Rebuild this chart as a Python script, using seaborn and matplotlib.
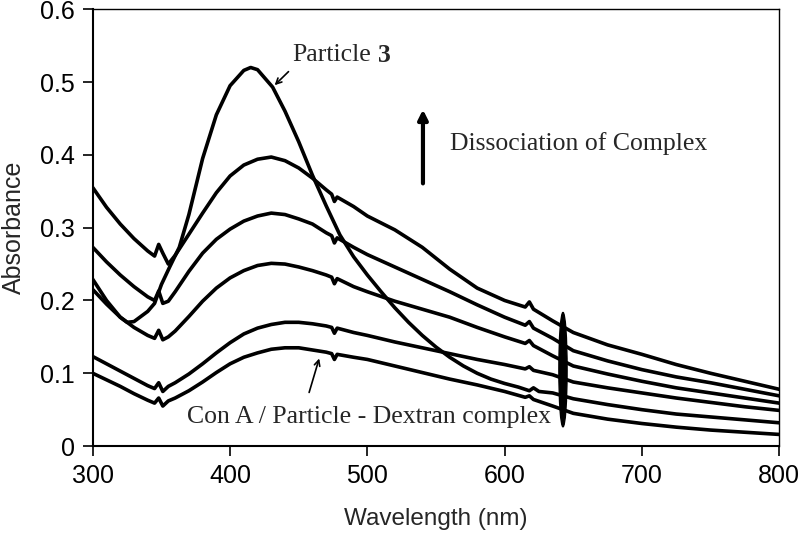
import numpy as np
import matplotlib
matplotlib.use("Agg")
import matplotlib.pyplot as plt
from matplotlib.patches import Ellipse
import seaborn as sns

# --------------------------------------------
# Data (wavelength in nm, absorbance)
# --------------------------------------------
wl = [300, 310, 320, 330, 340, 345, 348, 351, 355, 360, 370, 380, 390, 400,
      410, 420, 430, 440, 450, 460, 470, 474, 476, 478, 490, 500, 520, 540,
      560, 580, 600, 615, 618, 621, 635, 650, 675, 700, 725, 750, 775, 800]

# Con A / Particle - Dextran complex (lowest) up to most dissociated
complex_1 = [0.100, 0.091, 0.082, 0.072, 0.063, 0.059, 0.066, 0.055, 0.062, 0.066,
             0.076, 0.088, 0.101, 0.113, 0.122, 0.128, 0.133, 0.135, 0.135, 0.132,
             0.129, 0.127, 0.119, 0.126, 0.122, 0.119, 0.110, 0.101, 0.092, 0.084,
             0.075, 0.067, 0.069, 0.064, 0.055, 0.045, 0.037, 0.031, 0.026, 0.022,
             0.019, 0.016]
complex_2 = [0.123, 0.113, 0.103, 0.093, 0.083, 0.079, 0.087, 0.075, 0.082, 0.087,
             0.099, 0.113, 0.128, 0.142, 0.154, 0.162, 0.167, 0.170, 0.170, 0.168,
             0.165, 0.163, 0.155, 0.162, 0.156, 0.152, 0.143, 0.135, 0.127, 0.119,
             0.112, 0.106, 0.109, 0.104, 0.098, 0.088, 0.080, 0.073, 0.066, 0.060,
             0.054, 0.049]
complex_3 = [0.215, 0.195, 0.177, 0.163, 0.152, 0.148, 0.159, 0.146, 0.150, 0.158,
             0.178, 0.199, 0.217, 0.231, 0.241, 0.248, 0.251, 0.250, 0.246, 0.241,
             0.235, 0.232, 0.223, 0.230, 0.219, 0.212, 0.199, 0.188, 0.177, 0.163,
             0.150, 0.141, 0.145, 0.138, 0.124, 0.110, 0.099, 0.089, 0.080, 0.073,
             0.066, 0.059]
complex_4 = [0.273, 0.253, 0.235, 0.219, 0.205, 0.200, 0.213, 0.196, 0.199, 0.212,
             0.240, 0.265, 0.284, 0.298, 0.309, 0.316, 0.320, 0.318, 0.312, 0.305,
             0.293, 0.289, 0.279, 0.286, 0.273, 0.263, 0.246, 0.229, 0.212, 0.194,
             0.177, 0.166, 0.171, 0.162, 0.148, 0.131, 0.117, 0.105, 0.095, 0.087,
             0.078, 0.069]
complex_5 = [0.355, 0.328, 0.305, 0.285, 0.268, 0.261, 0.277, 0.265, 0.250, 0.262,
             0.291, 0.320, 0.348, 0.371, 0.386, 0.394, 0.397, 0.392, 0.382, 0.368,
             0.352, 0.346, 0.336, 0.342, 0.329, 0.316, 0.297, 0.273, 0.243, 0.217,
             0.200, 0.191, 0.198, 0.188, 0.172, 0.156, 0.139, 0.126, 0.112, 0.100,
             0.089, 0.078]

# Free particle 3
p3_wl = [300, 310, 320, 325, 330, 340, 345, 350, 356, 363, 370, 380, 390, 400,
         410, 415, 420, 431, 440, 450, 460, 470, 480, 490, 500, 510, 520, 530,
         540, 550, 560, 570, 580, 590, 600, 610, 618, 621, 625, 635, 650, 675,
         700, 725, 750, 775, 800]
particle_3 = [0.229, 0.200, 0.177, 0.170, 0.171, 0.185, 0.196, 0.222, 0.246, 0.273,
              0.318, 0.395, 0.455, 0.495, 0.516, 0.520, 0.517, 0.493, 0.460, 0.418,
              0.372, 0.330, 0.290, 0.260, 0.235, 0.212, 0.190, 0.170, 0.152, 0.136,
              0.122, 0.110, 0.100, 0.092, 0.086, 0.081, 0.076, 0.080, 0.075, 0.073,
              0.065, 0.057, 0.050, 0.044, 0.040, 0.036, 0.032]

x_ticks = [300, 400, 500, 600, 700, 800]
y_ticks = [0, 0.1, 0.2, 0.3, 0.4, 0.5, 0.6]
y_tick_labels = ["0", "0.1", "0.2", "0.3", "0.4", "0.5", "0.6"]

# --------------------------------------------
# Style
# --------------------------------------------
sns.set_style("white")
plt.rcParams["font.family"] = ["Liberation Sans", "DejaVu Sans"]
serif = ["Liberation Serif", "DejaVu Serif"]

fig = plt.figure(figsize=(8, 5.44), dpi=100)
ax = fig.add_axes([0.116, 0.180, 0.858, 0.803])

for series in [complex_1, complex_2, complex_3, complex_4, complex_5]:
    sns.lineplot(x=wl, y=series, ax=ax, color="black", lw=2.6)
sns.lineplot(x=p3_wl, y=particle_3, ax=ax, color="black", lw=2.6)

ax.set_xlim(300, 800)
ax.set_ylim(0, 0.6)
ax.set_xticks(x_ticks)
ax.set_yticks(y_ticks)
ax.set_yticklabels(y_tick_labels)
ax.tick_params(axis="both", direction="out", length=7, width=1.2,
               labelsize=18, colors="black", pad=6)
ax.tick_params(top=False, right=False, bottom=True, left=True)
for side in ["left", "bottom", "top", "right"]:
    ax.spines[side].set_color("black")
    ax.spines[side].set_linewidth(1.5 if side in ["left", "bottom"] else 1.0)

ax.set_xlabel("Wavelength (nm)", fontsize=17.5, labelpad=14)
ax.set_ylabel("Absorbance", fontsize=18, labelpad=10)

# Marker ellipse over all curves
ax.add_patch(Ellipse((642.5, 0.105), width=6, height=0.157, color="black", zorder=5))

# Annotations
ax.annotate("", xy=(540.5, 0.466), xytext=(540.5, 0.357),
            arrowprops=dict(arrowstyle="-|>", lw=3, color="black", mutation_scale=14))
ax.text(560, 0.416, "Dissociation of Complex", fontsize=18.5, family=serif,
        va="center", ha="left")

ax.annotate("", xy=(431, 0.493), xytext=(444, 0.517),
            arrowprops=dict(arrowstyle="->", lw=1.2, color="black"))
p_txt = ax.text(445, 0.537, "Particle", fontsize=18.5, family=serif,
                va="center", ha="left")
ax.annotate("3", xy=(1, 0.5), xycoords=p_txt, xytext=(5, 0),
            textcoords="offset points", fontsize=18.5, family=serif,
            weight="bold", va="center", ha="left")

ax.annotate("", xy=(465.5, 0.124), xytext=(457, 0.070),
            arrowprops=dict(arrowstyle="->", lw=1.2, color="black"))
ax.text(368.5, 0.040, "Con A / Particle - Dextran complex", fontsize=18.5,
        family=serif, va="center", ha="left")

plt.savefig("out.png", dpi=100)
plt.close()
